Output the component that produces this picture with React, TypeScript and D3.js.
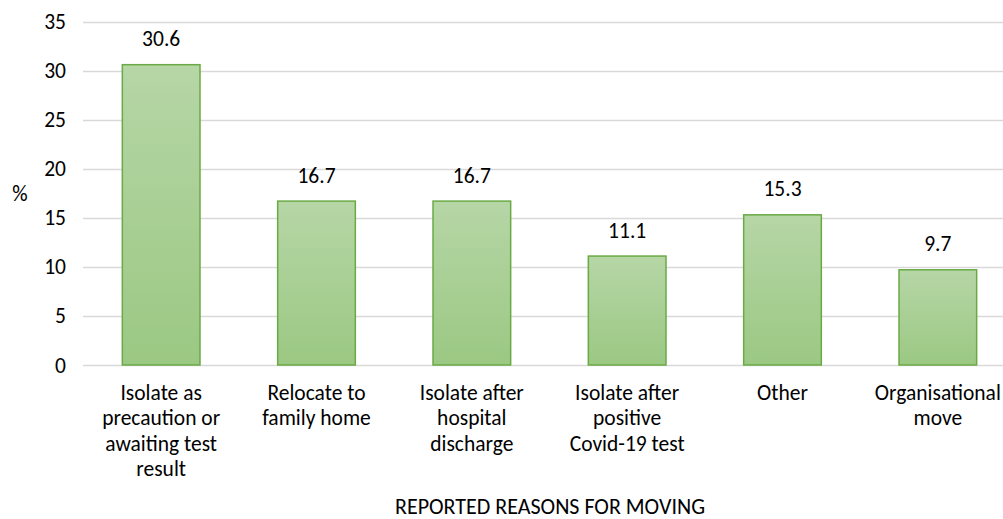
import React, { useRef, useEffect } from 'react';
import * as d3 from 'd3';

const categories = [
  ['Isolate as', 'precaution or', 'awaiting test', 'result'],
  ['Relocate to', 'family home'],
  ['Isolate after', 'hospital', 'discharge'],
  ['Isolate after', 'positive', 'Covid-19 test'],
  ['Other'],
  ['Organisational', 'move'],
];
const values = [30.6, 16.7, 16.7, 11.1, 15.3, 9.7];
const yTicks = [0, 5, 10, 15, 20, 25, 30, 35];

const App = () => {
  const ref = useRef<SVGSVGElement>(null);

  useEffect(() => {
    const width = 1003;
    const height = 519;
    const font = 'Carlito, Calibri, Lato, sans-serif';
    const fs = 21.5;

    const svg = d3.select(ref.current);
    svg.selectAll('*').remove();
    svg.attr('width', width).attr('height', height);

    const defs = svg.append('defs');
    const grad = defs.append('linearGradient')
      .attr('id', 'barFill')
      .attr('x1', 0).attr('y1', 0).attr('x2', 0).attr('y2', 1);
    grad.append('stop').attr('offset', '0%').attr('stop-color', '#b6d6a6');
    grad.append('stop').attr('offset', '100%').attr('stop-color', '#9bc883');

    const ids = categories.map((_, i) => String(i));
    const x = d3.scaleBand()
      .domain(ids)
      .range([83.5, 1015.5])
      .paddingInner(0.5)
      .paddingOuter(0.25);

    const y = d3.scaleLinear().domain([0, 35]).range([365, 21.5]);

    // gridlines
    svg.append('g')
      .selectAll('line')
      .data(yTicks)
      .enter()
      .append('line')
      .attr('x1', 83)
      .attr('x2', width)
      .attr('y1', d => Math.round(y(d)) + 0.5)
      .attr('y2', d => Math.round(y(d)) + 0.5)
      .attr('stroke', '#d9d9d9')
      .attr('stroke-width', 1.5);

    svg.append('g')
      .selectAll('text')
      .data(yTicks)
      .enter()
      .append('text')
      .attr('x', 66)
      .attr('y', d => y(d) + 7.5)
      .attr('text-anchor', 'end')
      .attr('font-family', font)
      .attr('font-size', fs)
      .attr('fill', '#000')
      .text(d => d);

    svg.append('g')
      .selectAll('rect')
      .data(values)
      .enter()
      .append('rect')
      .attr('x', (d, i) => x(ids[i])!)
      .attr('width', x.bandwidth())
      .attr('y', d => y(d))
      .attr('height', d => y(0) - y(d))
      .attr('fill', 'url(#barFill)')
      .attr('stroke', '#6aaa45')
      .attr('stroke-width', 1.5);

    svg.append('g')
      .selectAll('text')
      .data(values)
      .enter()
      .append('text')
      .attr('x', (d, i) => x(ids[i])! + x.bandwidth() / 2)
      .attr('y', d => y(d) - 18.5)
      .attr('text-anchor', 'middle')
      .attr('font-family', font)
      .attr('font-size', fs)
      .attr('fill', '#000')
      .text(d => d.toFixed(1));

    const labels = svg.append('g')
      .selectAll('text')
      .data(categories)
      .enter()
      .append('text')
      .attr('x', (d, i) => x(ids[i])! + x.bandwidth() / 2)
      .attr('y', 399.5)
      .attr('text-anchor', 'middle')
      .attr('font-family', font)
      .attr('font-size', fs)
      .attr('fill', '#000');

    labels.selectAll('tspan')
      .data((d, i) => d.map(line => ({ line, cx: x(ids[i])! + x.bandwidth() / 2 })))
      .enter()
      .append('tspan')
      .attr('x', d => d.cx)
      .attr('dy', (d, j) => (j === 0 ? 0 : 25.5))
      .text(d => d.line);

    svg.append('text')
      .attr('x', 20)
      .attr('y', 201)
      .attr('text-anchor', 'middle')
      .attr('font-family', font)
      .attr('font-size', fs)
      .text('%');

    svg.append('text')
      .attr('x', 550)
      .attr('y', 514)
      .attr('text-anchor', 'middle')
      .attr('font-family', font)
      .attr('font-size', 22)
      .text('REPORTED REASONS FOR MOVING');
  }, []);

  return <svg ref={ref} style={{ position: 'absolute', left: 0, top: 0 }}></svg>;
};

export default App;
